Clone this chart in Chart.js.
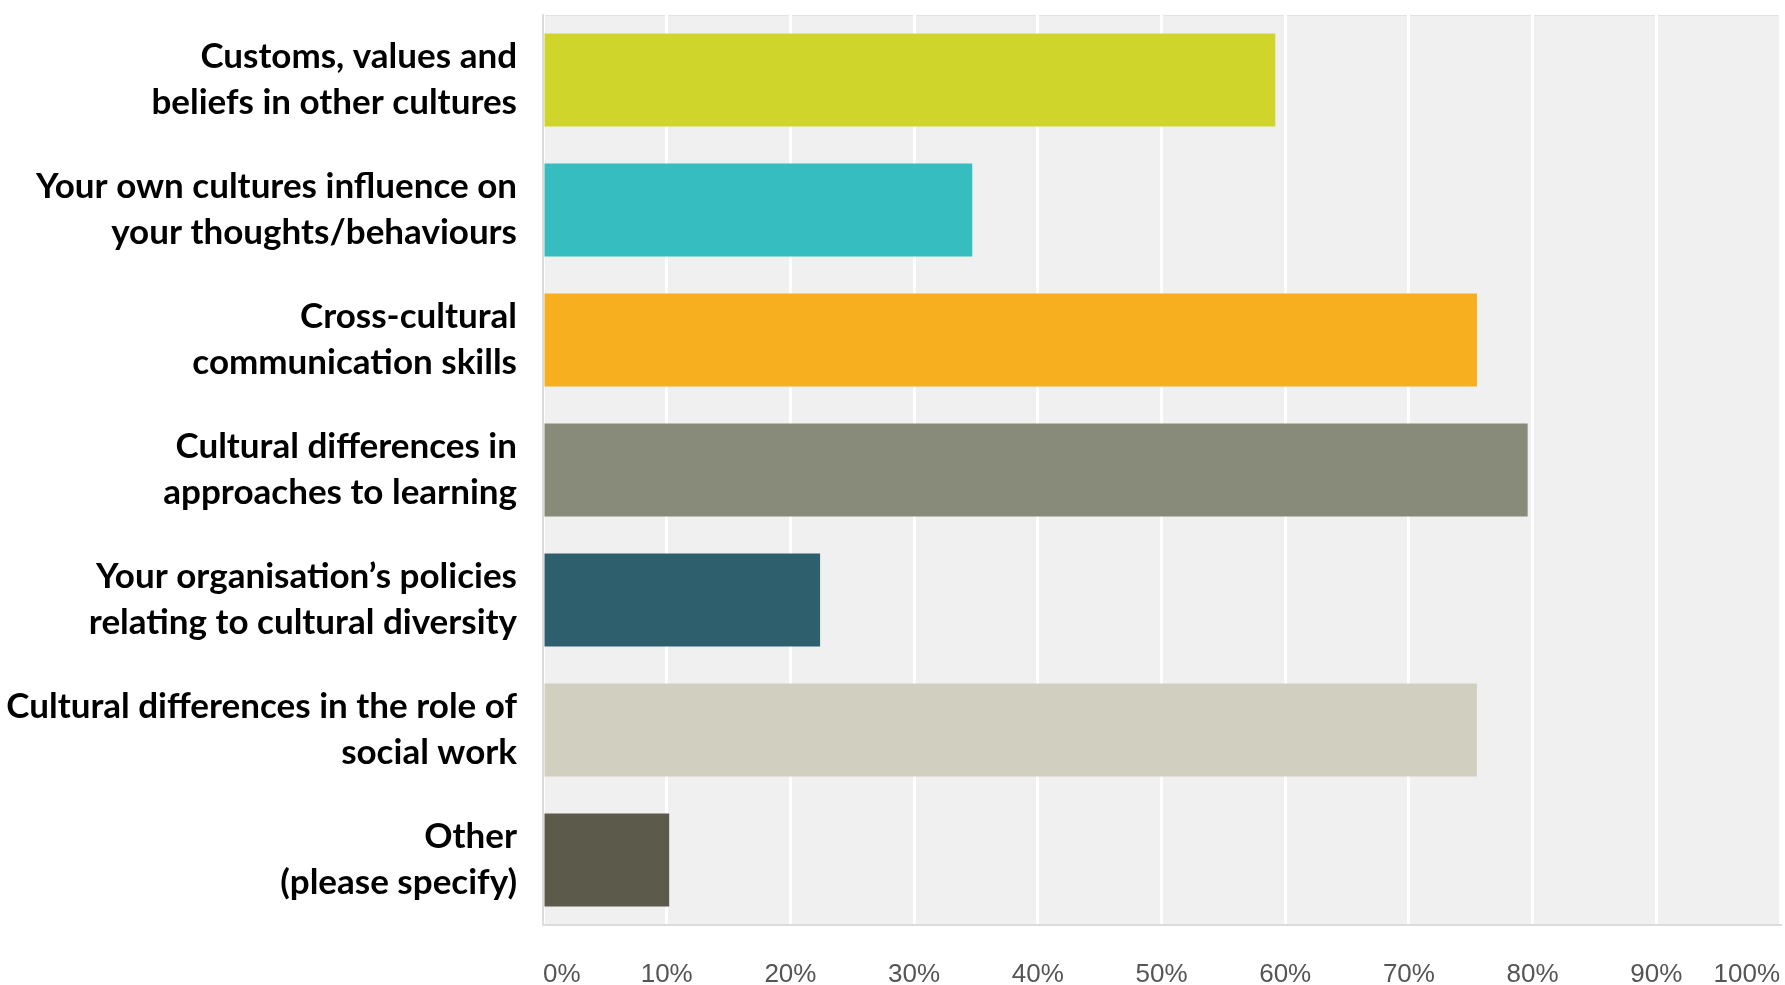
<!DOCTYPE html>
<html>
<head>
<meta charset="utf-8">
<script src="https://cdn.jsdelivr.net/npm/chart.js@4/dist/chart.umd.min.js"></script>
<style>
  html, body { margin: 0; padding: 0; background: #fff; }
  #wrap { width: 1785px; height: 985px; }
</style>
</head>
<body>
<div id="wrap"><canvas id="chart" width="1785" height="985"></canvas></div>
<script>
// Survey topics (two-line labels, as in the original)
const topics = [
    ['Customs, values and', 'beliefs in other cultures'],
    ['Your own cultures influence on', 'your thoughts/behaviours'],
    ['Cross-cultural', 'communication skills'],
    ['Cultural differences in', 'approaches to learning'],
    ['Your organisation\u2019s policies', 'relating to cultural diversity'],
    ['Cultural differences in the role of', 'social work'],
    ['Other', '(please specify)']
];

// Percent of respondents
const percentages = [59.2, 34.7, 75.5, 79.6, 22.4, 75.5, 10.2];

const barColors = ['#cfd52a', '#35bdc0', '#f7ae1f', '#888a7a', '#2e5f6d', '#d1cfc0', '#5c5a4a'];

// x axis ticks
const percentTicks = [0, 10, 20, 30, 40, 50, 60, 70, 80, 90, 100];

// grey plot background behind the grid
const plotBackground = {
    id: 'plotBackground',
    beforeDraw(chart) {
        const { ctx, chartArea: a } = chart;
        ctx.save();
        ctx.fillStyle = '#f0f0f0';
        ctx.fillRect(a.left, a.top, a.right - a.left, a.bottom - a.top);
        ctx.strokeStyle = '#e2e2e2';
        ctx.lineWidth = 1;
        ctx.strokeRect(a.left + 0.5, a.top + 0.5, a.right - a.left - 1, a.bottom - a.top - 1);
        ctx.restore();
    }
};

new Chart(document.getElementById('chart').getContext('2d'), {
    type: 'bar',
    data: {
        labels: topics,
        datasets: [{
            data: percentages,
            backgroundColor: barColors,
            borderWidth: 0,
            barPercentage: 0.715,
            categoryPercentage: 1
        }]
    },
    options: {
        indexAxis: 'y',
        responsive: false,
        animation: false,
        devicePixelRatio: 1,
        layout: { padding: { left: 0, top: 15, right: 5, bottom: 0 } },
        plugins: {
            legend: { display: false },
            tooltip: { enabled: false }
        },
        scales: {
            x: {
                min: 0,
                max: 100,
                afterBuildTicks: scale => {
                    scale.ticks = percentTicks.map(v => ({ value: v }));
                },
                afterFit: scale => {
                    scale.height = 60;
                    scale.paddingLeft = 0;
                    scale.paddingRight = 0;
                },
                grid: { color: '#ffffff', lineWidth: 3, drawTicks: false },
                border: { display: true, color: '#dcdcdc', width: 2 },
                ticks: {
                    align: 'inner',
                    padding: 34,
                    color: '#555555',
                    font: { family: "'Liberation Sans', Arial, sans-serif", size: 26 },
                    callback: v => v + '%'
                }
            },
            y: {
                afterFit: scale => {
                    scale.width = 543;
                    scale.paddingTop = 0;
                    scale.paddingBottom = 0;
                },
                grid: { display: false, drawTicks: false },
                border: { display: true, color: '#dcdcdc', width: 2 },
                ticks: {
                    padding: 26,
                    color: '#000000',
                    font: { family: "Lato, 'Open Sans', sans-serif", size: 35, weight: 'bold', lineHeight: 1.31 }
                }
            }
        }
    },
    plugins: [plotBackground]
});
</script>
</body>
</html>
